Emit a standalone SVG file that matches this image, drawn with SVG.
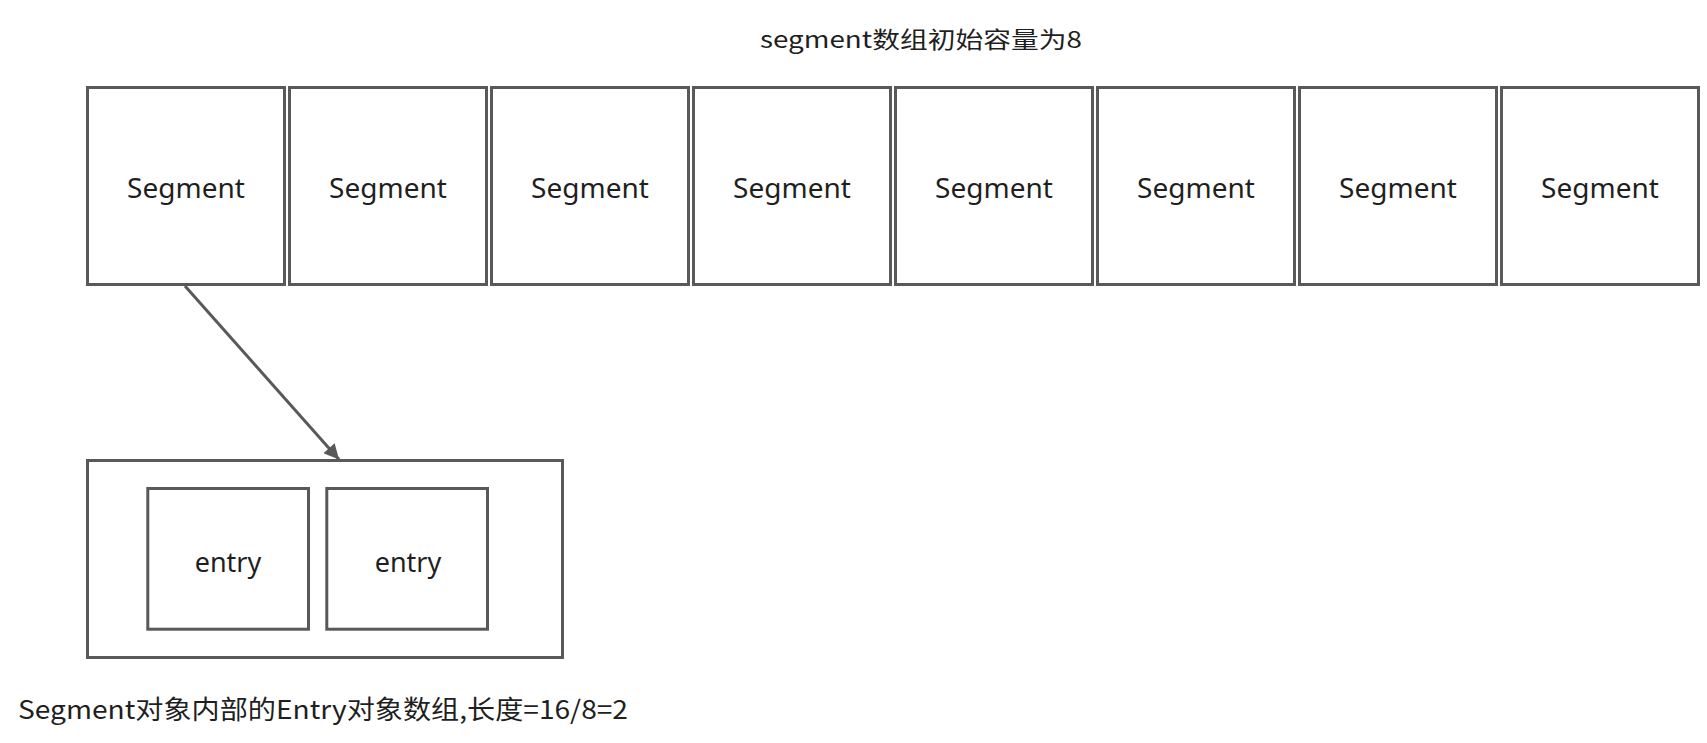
<svg xmlns="http://www.w3.org/2000/svg" width="1707" height="743" viewBox="0 0 1707 743">
<defs>
<style>
.box{fill:#ffffff;stroke:#595959;stroke-width:3}
.lbl{font-family:"Noto Sans","Noto Sans CJK SC",sans-serif;font-size:27px;fill:#1f1f1f;text-anchor:middle}
.seg{font-size:28px}
.cap{font-family:"Noto Sans CJK SC","Noto Sans",sans-serif;fill:#1f1f1f}
.conn{stroke:#595959;stroke-width:3;fill:none}
</style>
<marker id="arrow" viewBox="0 0 10 10" refX="10" refY="5" markerWidth="17" markerHeight="15" markerUnits="userSpaceOnUse" orient="auto">
<path d="M0,0 L10,5 L0,10 z" fill="#595959"/>
</marker>
</defs>
<rect width="1707" height="743" fill="#ffffff"/>
<text class="cap" x="760" y="48" font-size="23" textLength="322" lengthAdjust="spacingAndGlyphs">segment数组初始容量为8</text>
<g id="seg0"><rect class="box" x="87.5" y="87.5" width="197" height="197"/><text class="lbl seg" x="186" y="198">Segment</text></g>
<g id="seg1"><rect class="box" x="289.5" y="87.5" width="197" height="197"/><text class="lbl seg" x="388" y="198">Segment</text></g>
<g id="seg2"><rect class="box" x="491.5" y="87.5" width="197" height="197"/><text class="lbl seg" x="590" y="198">Segment</text></g>
<g id="seg3"><rect class="box" x="693.5" y="87.5" width="197" height="197"/><text class="lbl seg" x="792" y="198">Segment</text></g>
<g id="seg4"><rect class="box" x="895.5" y="87.5" width="197" height="197"/><text class="lbl seg" x="994" y="198">Segment</text></g>
<g id="seg5"><rect class="box" x="1097.5" y="87.5" width="197" height="197"/><text class="lbl seg" x="1196" y="198">Segment</text></g>
<g id="seg6"><rect class="box" x="1299.5" y="87.5" width="197" height="197"/><text class="lbl seg" x="1398" y="198">Segment</text></g>
<g id="seg7"><rect class="box" x="1501.5" y="87.5" width="197" height="197"/><text class="lbl seg" x="1600" y="198">Segment</text></g>
<g id="entryArray"><rect class="box" x="87.5" y="460.5" width="475" height="197"/></g>
<g id="entry0"><rect class="box" x="147.8" y="488.5" width="160.7" height="140.7"/><text class="lbl" x="228" y="572">entry</text></g>
<g id="entry1"><rect class="box" x="326.8" y="488.5" width="160.7" height="140.7"/><text class="lbl" x="408" y="572">entry</text></g>
<g id="connectors">
<line class="conn" x1="185" y1="286" x2="339" y2="459.5" marker-end="url(#arrow)"/>
</g>
<text class="cap" x="18" y="719" font-size="26" textLength="610" lengthAdjust="spacingAndGlyphs">Segment对象内部的Entry对象数组,长度=16/8=2</text>
</svg>
